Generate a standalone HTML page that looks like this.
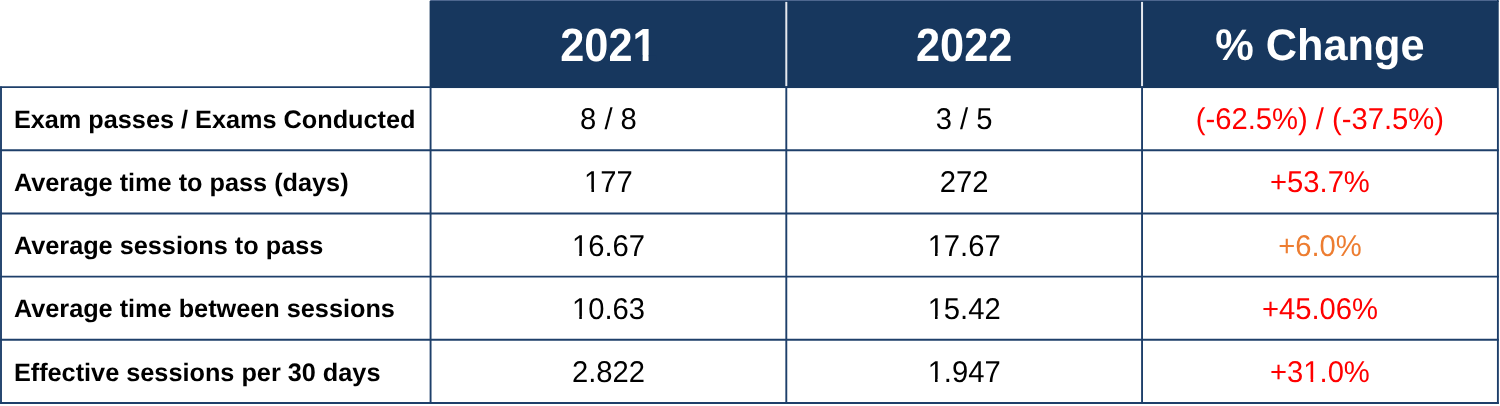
<!DOCTYPE html>
<html>
<head>
<meta charset="utf-8">
<title>Exam statistics 2021 vs 2022</title>
<style>
  html, body { margin: 0; padding: 0; background: #ffffff; }
  body { width: 1500px; height: 406px; position: relative; overflow: hidden;
         font-family: "Liberation Sans", Arial, sans-serif; }
  .abs { position: absolute; text-rendering: geometricPrecision; white-space: nowrap; }
  .h { top: 3px; height: 89px; line-height: 89px; width: 355.75px; text-align: center; color: #fff;
       font-weight: bold; font-size: 43.3px; transform: scaleY(1.075); transform-origin: 50% 60px; }
  .lab { left: 13.9px; font-weight: bold; font-size: 25.28px; color: #000;
         height: 63px; line-height: 63px; }
  .val { font-size: 29.2px; color: #000; text-align: center; width: 355.75px;
         height: 63px; line-height: 63px; transform: scaleY(1.03); transform-origin: 50% 65%; }
  .c1 { left: 430.58px; } .c2 { left: 786.3px; } .c3 { left: 1142.05px; }
  .red { color: #ff0000; } .org { color: #ed7d31; }
</style>
</head>
<body>
  <svg class="abs" style="left:0;top:0" width="1500" height="406" viewBox="0 0 1500 406" shape-rendering="geometricPrecision">
    <rect x="429.6" y="0.9" width="1069.1" height="87.15" fill="#17375e"/>
    <rect x="1497" y="0" width="1.7" height="2" fill="#17375e"/>
    <rect x="430.2" y="0" width="1066.8" height="1" fill="#4e678f"/>
    <g stroke="#e6e9ef" stroke-width="2">
      <line x1="786.3" y1="1.9" x2="786.3" y2="86.1"/>
      <line x1="1142.05" y1="1.9" x2="1142.05" y2="86.1"/>
    </g>
    <g stroke="#1e3f6a" stroke-width="1.9">
      <line x1="0.05" y1="87.1" x2="430" y2="87.1"/>
      <line x1="0.05" y1="150.28" x2="1498.85" y2="150.28"/>
      <line x1="0.05" y1="213.46" x2="1498.85" y2="213.46"/>
      <line x1="0.05" y1="276.64" x2="1498.85" y2="276.64"/>
      <line x1="0.05" y1="339.82" x2="1498.85" y2="339.82"/>
      <line x1="0.05" y1="403" x2="1498.85" y2="403"/>
      <line x1="1.0" y1="86.6" x2="1.0" y2="403.95"/>
      <line x1="430.58" y1="87.1" x2="430.58" y2="403.95"/>
      <line x1="786.3" y1="87.1" x2="786.3" y2="403.95"/>
      <line x1="1142.05" y1="87.1" x2="1142.05" y2="403.95"/>
      <line x1="1497.9" y1="88" x2="1497.9" y2="403.95"/>
    </g>
  </svg>

  <div class="abs h c1">2021</div>
  <div class="abs h c2">2022</div>
  <div class="abs h c3" style="top:2px;transform:scaleY(1.02)">% Change</div>

  <div class="abs lab" style="top:89px">Exam passes / Exams Conducted</div>
  <div class="abs val c1" style="top:89px">8 / 8</div>
  <div class="abs val c2" style="top:89px">3 / 5</div>
  <div class="abs val c3 red" style="top:89px">(-62.5%) / (-37.5%)</div>

  <div class="abs lab" style="top:152px">Average time to pass (days)</div>
  <div class="abs val c1" style="top:152px">177</div>
  <div class="abs val c2" style="top:152px">272</div>
  <div class="abs val c3 red" style="top:152px">+53.7%</div>

  <div class="abs lab" style="top:215px">Average sessions to pass</div>
  <div class="abs val c1" style="top:216px">16.67</div>
  <div class="abs val c2" style="top:216px">17.67</div>
  <div class="abs val c3 org" style="top:216px">+6.0%</div>

  <div class="abs lab" style="top:278px">Average time between sessions</div>
  <div class="abs val c1" style="top:279px">10.63</div>
  <div class="abs val c2" style="top:279px">15.42</div>
  <div class="abs val c3 red" style="top:279px">+45.06%</div>

  <div class="abs lab" style="top:342px">Effective sessions per 30 days</div>
  <div class="abs val c1" style="top:342px">2.822</div>
  <div class="abs val c2" style="top:342px">1.947</div>
  <div class="abs val c3 red" style="top:342px">+31.0%</div>

  <svg class="abs" style="left:0;top:0" width="1500" height="406" viewBox="0 0 1500 406" shape-rendering="geometricPrecision">
    <rect x="634.24" y="55.45" width="8.38" height="6.55" fill="#17375e"/>
    <rect x="648.56" y="55.45" width="7.83" height="6.55" fill="#17375e"/>
    <rect x="585.32" y="188.92" width="6.12" height="4.08" fill="#fff"/>
    <rect x="594.02" y="188.92" width="5.89" height="4.08" fill="#fff"/>
    <rect x="573.15" y="252.92" width="6.12" height="4.08" fill="#fff"/>
    <rect x="581.85" y="252.92" width="5.89" height="4.08" fill="#fff"/>
    <rect x="928.86" y="252.92" width="6.12" height="4.08" fill="#fff"/>
    <rect x="937.56" y="252.92" width="5.89" height="4.08" fill="#fff"/>
    <rect x="573.15" y="315.92" width="6.12" height="4.08" fill="#fff"/>
    <rect x="581.85" y="315.92" width="5.89" height="4.08" fill="#fff"/>
    <rect x="928.86" y="315.92" width="6.12" height="4.08" fill="#fff"/>
    <rect x="937.56" y="315.92" width="5.89" height="4.08" fill="#fff"/>
    <rect x="928.86" y="378.92" width="6.12" height="4.08" fill="#fff"/>
    <rect x="937.56" y="378.92" width="5.89" height="4.08" fill="#fff"/>
    <rect x="1304.51" y="378.92" width="6.12" height="4.08" fill="#fff"/>
    <rect x="1313.20" y="378.92" width="5.89" height="4.08" fill="#fff"/>
  </svg>
</body>
</html>
